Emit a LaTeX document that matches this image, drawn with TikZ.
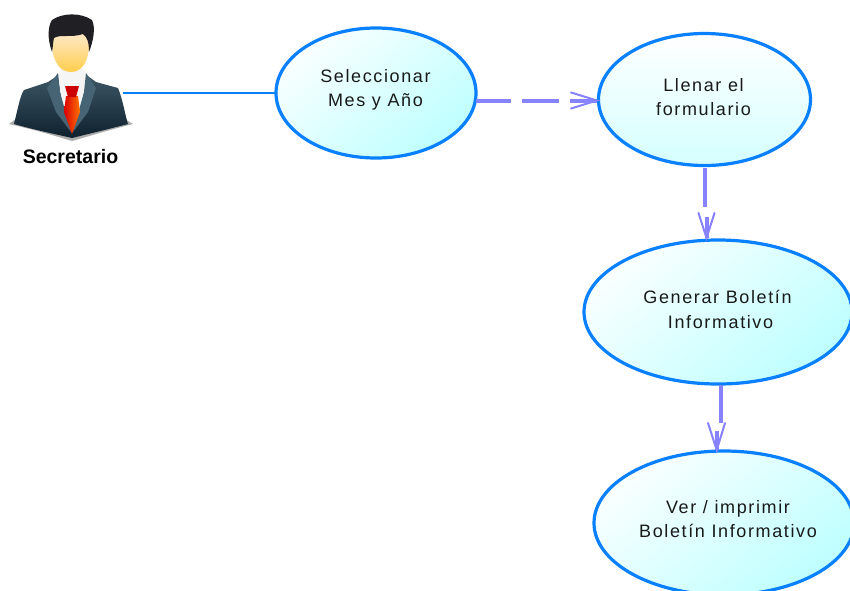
\documentclass[tikz,border=0pt]{standalone}
\usepackage{fontspec}
\setmainfont{Liberation Sans}
\usetikzlibrary{arrows.meta}
\definecolor{edgeblue}{RGB}{8,128,255}
\definecolor{flow}{RGB}{135,130,255}
\definecolor{fillc}{RGB}{190,255,255}
\definecolor{suitA}{RGB}{62,88,102}
\definecolor{suitB}{RGB}{14,32,46}
\definecolor{lapel}{RGB}{70,100,115}
\definecolor{hair}{RGB}{32,32,36}
\begin{document}
\begin{tikzpicture}[x=1pt,y=-1pt,
 usecase/.style={draw=edgeblue,line width=3.2pt,top color=fillc!8!white,bottom color=fillc,shading angle=40},
 lbl/.style={font=\fontsize{18}{24.5}\selectfont\addfontfeature{LetterSpace=9},align=center,text=black!90},
 flowline/.style={draw=flow,line width=4pt},
 flowtip/.style={draw=flow,line width=2pt,line cap=round,line join=miter}]
\useasboundingbox (0,0) rectangle (850,590);
\clip (0,0) rectangle (850,590);
\fill[white] (0,0) rectangle (850,590);
% actor
\coordinate (hand) at (123,93);
\fill[gray!65] (9,124) .. controls (40,131) and (55,136) .. (72,141) .. controls (90,136) and (105,131) .. (133,124) -- (120,116) -- (20,116) -- cycle;
\path[top color=suitA,bottom color=suitB] (14,124) .. controls (18,108) and (20,96) .. (24,90) -- (48,82) -- (60,74) -- (85,74) -- (96,82) -- (118,88) .. controls (123,100) and (125,115) .. (128,124) .. controls (105,130) and (88,134) .. (72,138) .. controls (55,134) and (35,130) .. (14,124) -- cycle;
\fill[white!92!gray] (58,76) -- (62,68) -- (83,68) -- (87,76) -- (82,105) -- (72,125) -- (62,105) -- cycle;
\fill[lapel] (47,88) -- (58,73) -- (60,92) -- (71,132) -- (56,112) -- cycle;
\fill[lapel] (96,88) -- (86,73) -- (84,92) -- (73,132) -- (88,112) -- cycle;
\path[left color=red!85!black,right color=orange!90!red] (66,96) -- (78,96) -- (80,112) -- (72,134) -- (64,112) -- cycle;
\fill[red!80!black] (65,86) -- (79,86) -- (76,97) -- (68,97) -- cycle;
\path[top color=orange!15!white,bottom color=orange!55!yellow!70!white] (52,38) .. controls (51,58) and (58,72) .. (71,72) .. controls (84,72) and (90,58) .. (89,38) .. controls (88,28) and (53,28) .. cycle;
\fill[hair] (52,52) .. controls (47,38) and (48,26) .. (52,20) .. controls (62,13) and (80,12) .. (92,20) .. controls (96,28) and (93,42) .. (89,52) .. controls (89,42) and (87,37) .. (83,34) .. controls (72,38) and (60,34) .. (54,38) .. controls (53,42) and (53,47) .. (52,52) -- cycle;
\node[font=\bfseries\fontsize{19.5}{21}\selectfont] (actor) at (70.5,157) {Secretario};
% use cases
\path[usecase] (376,93) ellipse [x radius=100,y radius=65];
\path[usecase,top color=white,bottom color=fillc!65!white] (704.5,99.5) ellipse [x radius=106,y radius=66];
\path[usecase] (718,312) ellipse [x radius=134,y radius=72];
\path[usecase] (724,523) ellipse [x radius=130,y radius=72];
\node[lbl] (t1) at (375.5,90) {Seleccionar\\Mes y Año};
\node[lbl] (t2) at (703.5,97) {Llenar el\\formulario};
\node[lbl] (t3) at (717.5,309.5) {Generar Boletín\\\hspace{6pt}Informativo};
\node[lbl] (t4) at (728,519) {Ver / imprimir\\Boletín Informativo};
% connectors
\draw[edgeblue,line width=1.6pt] (hand) -- (276,93);
\draw[flowline] (476,100.5) -- (511,100.5);
\draw[flowline] (522,100.5) -- (559,100.5);
\draw[flowline] (570,100.5) -- (597,100.5);
\draw[flowtip] (571,92.5) -- (597,100.5) -- (571,108.5);
\draw[flowline] (704.7,168) -- (704.7,207);
\draw[flowline] (706.5,217) -- (706.5,238);
\draw[flowtip] (698.5,213) -- (706.5,238) -- (714.5,213);
\draw[flowline] (721,385) -- (721,423);
\draw[flowline] (716.7,431) -- (716.7,450);
\draw[flowtip] (708,423) -- (716.7,450) -- (725,423);
\end{tikzpicture}
\end{document}
